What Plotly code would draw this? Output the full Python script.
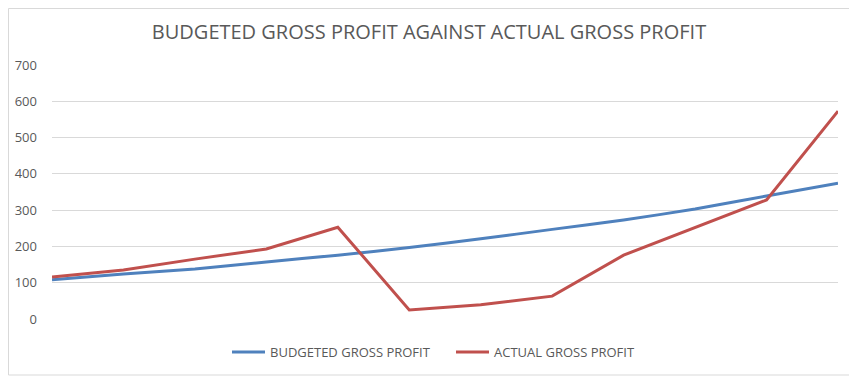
import plotly.graph_objects as go

periods = list(range(12))
budgeted = [108, 124, 138, 157, 176, 197, 221, 247, 273, 303, 339, 374]
actual = [116, 135, 165, 193, 253, 25, 39, 63, 176, 252, 328, 573]
y_ticks = [0, 100, 200, 300, 400, 500, 600, 700]

fig = go.Figure()
fig.add_trace(go.Scatter(x=periods, y=budgeted, mode="lines", name="BUDGETED GROSS PROFIT",
                         line=dict(color="#4F81BD", width=3, shape="spline", smoothing=0.6)))
fig.add_trace(go.Scatter(x=periods, y=actual, mode="lines", name="ACTUAL GROSS PROFIT",
                         line=dict(color="#C0504D", width=3)))

OFF = 8  # page body margin offset
W, H = 857, 381
L = 52 - OFF
T = 65 - OFF
R = W - (838 - OFF)
B = H - (319 - OFF)
pw, ph = W - L - R, H - T - B


def px_x(p):
    return (p - OFF - L) / pw


def px_y(p):
    return ((H - B) - (p - OFF)) / ph


fig.update_layout(
    width=W, height=H,
    margin=dict(l=L, r=R, t=T, b=B, autoexpand=False),
    paper_bgcolor="white", plot_bgcolor="white",
    title=dict(text="BUDGETED GROSS PROFIT AGAINST ACTUAL GROSS PROFIT",
               x=(429 - OFF) / W, xanchor="center", xref="container",
               y=1 - (32 - OFF) / H, yanchor="middle",
               font=dict(family="Open Sans", size=20, color="#595959")),
    xaxis=dict(range=[0, 11], showgrid=False, showticklabels=False, zeroline=False,
               showline=False, ticks=""),
    yaxis=dict(range=[0, 700], tickvals=y_ticks, showgrid=True, gridcolor="#D9D9D9",
               gridwidth=1, zeroline=False, showline=False, ticks="",
               tickfont=dict(family="Open Sans", size=13, color="#595959"), ticklabelstandoff=14),
    legend=dict(orientation="h", x=px_x(451), xanchor="center", y=px_y(352), yanchor="middle",
                font=dict(family="Open Sans", size=13, color="#595959"), itemwidth=33,
                entrywidth=176),
    showlegend=True,
)

fig.add_shape(type="rect", xref="paper", yref="paper",
              x0=(0.5 - L) / pw, x1=px_x(852),
              y0=px_y(375), y1=((H - B) - 0.5) / ph,
              line=dict(color="#D9D9D9", width=1), fillcolor="rgba(0,0,0,0)", layer="below")

fig.write_html("out.html")
